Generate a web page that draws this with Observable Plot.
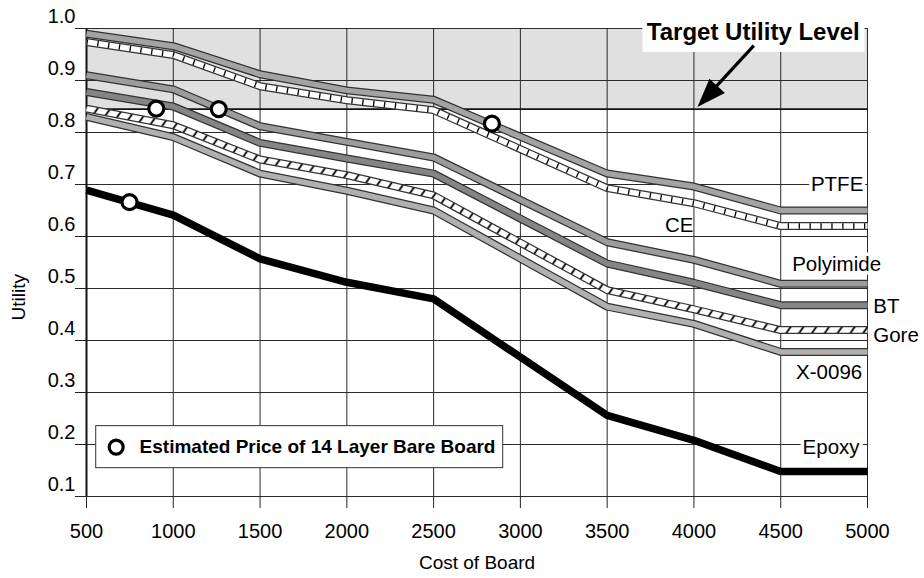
<!DOCTYPE html>
<html>
<head>
<meta charset="utf-8">
<script src="https://cdn.jsdelivr.net/npm/d3@7"></script>
<script src="https://cdn.jsdelivr.net/npm/@observablehq/plot@0.6"></script>
<style>
  html, body { margin: 0; padding: 0; background: white; }
  #chart { width: 924px; height: 578px; }
</style>
</head>
<body>
<div id="chart"></div>
<script>
// ---- data ----
const costs     = [500, 1000, 1500, 2000, 2500, 3500, 4000, 4500, 5000];
const ptfe      = [0.990, 0.966, 0.912, 0.881, 0.863, 0.721, 0.696, 0.650, 0.650];
const ce        = [0.974, 0.949, 0.889, 0.862, 0.843, 0.693, 0.664, 0.620, 0.620];
const polyimide = [0.910, 0.883, 0.812, 0.782, 0.752, 0.589, 0.555, 0.509, 0.509];
const bt        = [0.878, 0.850, 0.780, 0.750, 0.721, 0.548, 0.511, 0.468, 0.468];
const gore      = [0.846, 0.814, 0.748, 0.718, 0.679, 0.497, 0.460, 0.420, 0.420];
const x0096     = [0.830, 0.791, 0.721, 0.688, 0.650, 0.465, 0.432, 0.378, 0.378];
const epoxy     = [0.689, 0.641, 0.557, 0.512, 0.480, 0.256, 0.208, 0.148, 0.148];

const priceCost    = [748, 902, 1262, 2836];
const priceUtility = [0.666, 0.846, 0.845, 0.817];

const targetLevel = [0.845];
const xTicks = [500, 1000, 1500, 2000, 2500, 3000, 3500, 4000, 4500, 5000];
const yTicks = [0.1, 0.2, 0.3, 0.4, 0.5, 0.6, 0.7, 0.8, 0.9, 1.0];

const seriesNames = ["PTFE", "CE", "Polyimide", "BT", "Gore", "X-0096", "Epoxy"];
const seriesValues = [ptfe, ce, polyimide, bt, gore, x0096, epoxy];

const titleText = ["Target Utility Level"];
const legendText = ["Estimated Price of 14 Layer Bare Board"];

// ---- tables built from the arrays ----
const rows = seriesNames.flatMap((name, s) =>
  costs.map((c, i) => ({series: name, cost: c, utility: seriesValues[s][i]})));
const of = (name) => rows.filter(d => d.series === name);
const prices = priceCost.map((c, i) => ({cost: c, utility: priceUtility[i]}));

const FONT = "'Liberation Sans', Arial, Helvetica, sans-serif";

function band(name, inner, extra) {
  const data = of(name);
  const marks = [
    Plot.line(data, {x: "cost", y: "utility", stroke: "#333", strokeWidth: 8, strokeLinejoin: "round", strokeLinecap: "butt"}),
    Plot.line(data, {x: "cost", y: "utility", stroke: inner, strokeWidth: 5.5, strokeLinejoin: "round", strokeLinecap: "butt"})
  ];
  if (extra) marks.push(Plot.line(data, {x: "cost", y: "utility", strokeLinejoin: "round", strokeLinecap: "butt", ...extra}));
  return marks;
}

// custom elongated arrow head (tip at origin, body along +y)
const arrowHead = {
  draw(ctx) {
    ctx.moveTo(0, 0);
    ctx.lineTo(-10.5, 29);
    ctx.lineTo(10.5, 29);
    ctx.closePath();
  }
};

// label positions (annotation layout)
const labelPos = {
  PTFE:      {x: 4825, y: 0.700, anchor: "middle", halo: true},
  CE:        {x: 3915, y: 0.621, anchor: "middle", halo: false},
  Polyimide: {x: 4822, y: 0.546, anchor: "middle", halo: true},
  BT:        {x: 5033, y: 0.466, anchor: "start",  halo: false},
  Gore:      {x: 5033, y: 0.410, anchor: "start",  halo: false},
  "X-0096":  {x: 4779, y: 0.339, anchor: "middle", halo: false},
  Epoxy:     {x: 4790, y: 0.194, anchor: "middle", halo: true}
};
const labelMarks = seriesNames.map(name => {
  const p = labelPos[name];
  return Plot.text([name], {
    x: p.x, y: p.y, text: d => d, textAnchor: p.anchor, fill: "black",
    fontSize: 20.5, ...(p.halo ? {stroke: "white", strokeWidth: 7} : {})
  });
});

const svg = Plot.plot({
  width: 924,
  height: 578,
  marginLeft: 86,
  marginRight: 57,
  marginTop: 28,
  marginBottom: 82,
  style: {fontFamily: FONT, fontSize: "19px", color: "black", background: "white", overflow: "visible"},
  x: {domain: [500, 5000], label: null},
  y: {domain: [0.1, 1.0], label: null},
  marks: [
    // shaded target zone
    Plot.rect(targetLevel, {x1: xTicks[0], x2: xTicks[xTicks.length - 1], y1: d => d, y2: yTicks[yTicks.length - 1], fill: "#e0e0e0"}),
    Plot.gridX({ticks: xTicks, stroke: "#2a2a2a", strokeOpacity: 1, strokeWidth: 1}),
    Plot.gridY({ticks: yTicks, stroke: "#2a2a2a", strokeOpacity: 1, strokeWidth: 1}),
    Plot.ruleX([xTicks[0]], {stroke: "#111", strokeWidth: 2}),
    Plot.ruleY(targetLevel, {stroke: "#111", strokeWidth: 1.6}),

    // series bands
    ...band("PTFE", "#a3a3a3"),
    ...band("CE", "white", {stroke: "black", strokeWidth: 5.5, strokeDasharray: "1.3 9.6"}),
    ...band("Polyimide", "#9c9c9c"),
    ...band("BT", "#858585"),
    ...band("Gore", "url(#goreHatch)"),
    ...band("X-0096", "#b0b0b0"),
    Plot.line(of("Epoxy"), {x: "cost", y: "utility", stroke: "black", strokeWidth: 7.5, strokeLinejoin: "round", strokeLinecap: "butt"}),

    // estimated price markers
    Plot.dot(prices, {x: "cost", y: "utility", r: 7.5, fill: "white", stroke: "black", strokeWidth: 3.2}),

    // target utility annotation
    Plot.rect(titleText, {x1: 3706, x2: 4986, y1: 0.954, y2: 1.016, fill: "white"}),
    Plot.text(titleText, {x: 4342, y: 0.992, text: d => d, fontSize: 24, fontWeight: "bold", fill: "black"}),
    Plot.link(titleText, {x1: 4345, y1: 0.967, x2: 4110, y2: 0.882, stroke: "black", strokeWidth: 3.2}),
    Plot.dot(titleText, {x: 4020, y: 0.849, symbol: arrowHead, r: 10, fill: "black", stroke: "none", rotate: 223}),

    // legend box
    Plot.rect(legendText, {x1: 556, x2: 2901, y1: 0.1545, y2: 0.2353, fill: "white", stroke: "#333", strokeWidth: 1}),
    Plot.dot(legendText, {x: 671, y: 0.195, r: 7, fill: "white", stroke: "black", strokeWidth: 3.2}),
    Plot.text(legendText, {x: 806, y: 0.195, text: d => d, textAnchor: "start", fontSize: 19, fontWeight: "bold", fill: "black"}),

    // series labels
    ...labelMarks,

    // axes
    Plot.axisX({ticks: xTicks, tickSize: 12, tickPadding: 15, tickFormat: d3.format("d"), stroke: "#222", fill: "black", label: null, fontSize: 20}),
    Plot.axisY({ticks: yTicks, tickSize: 11, tickFormat: () => "", stroke: "#222", label: null}),
    Plot.axisY({ticks: yTicks, tickSize: 0, tickPadding: 11, dy: -12, tickFormat: d3.format(".1f"), fill: "black", label: null, fontSize: 20}),
    Plot.text(["Cost of Board"], {frameAnchor: "bottom", dy: 72, text: d => d, fontSize: 19, fill: "black"}),
    Plot.text(["Utility"], {frameAnchor: "left", dx: -68, dy: 58, rotate: -90, text: d => d, fontSize: 19, fill: "black"})
  ]
});

// hatch pattern for the Gore band
const defs = d3.select(svg).insert("defs", ":first-child");
const pat = defs.append("pattern")
  .attr("id", "goreHatch")
  .attr("patternUnits", "userSpaceOnUse")
  .attr("width", 10.5).attr("height", 10.5)
  .attr("patternTransform", "rotate(35)");
pat.append("rect").attr("width", 10.5).attr("height", 10.5).attr("fill", "white");
pat.append("line").attr("x1", 5).attr("y1", 0).attr("x2", 5).attr("y2", 10.5)
  .attr("stroke", "black").attr("stroke-width", 1.8);

document.getElementById("chart").appendChild(svg);
</script>
</body>
</html>
